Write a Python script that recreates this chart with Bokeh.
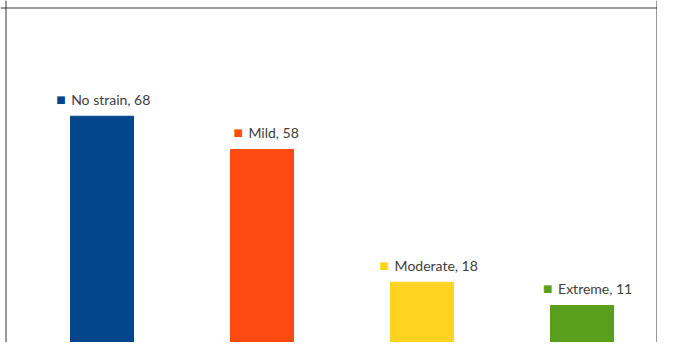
from bokeh.plotting import figure
from bokeh.models import Range1d, ColumnDataSource, Span
from bokeh.core.properties import value
from bokeh.embed import file_html
from bokeh.resources import INLINE

categories = ["No strain", "Mild", "Moderate", "Extreme"]
values = [68, 58, 18, 11]
colors = ["#03468B", "#FF4A12", "#FFD320", "#5A9E1E"]

W, H = 657, 342
px_per_cat = 160.0
x_start = -101.5 / px_per_cat
x_end = x_start + W / px_per_cat
px_per_unit = 3.32
y_start = -0.5 / px_per_unit
y_end = y_start + H / px_per_unit

labels = [f"{c}, {v}" for c, v in zip(categories, values)]
char_w = 6.9
totals = [16 + len(s) * char_w for s in labels]
src = ColumnDataSource(dict(
    x=list(range(len(categories))), top=values, color=colors, label=labels,
    mk=["\u25A0"] * len(categories),
    mk_off=[-t / 2 + 7 for t in totals],
    tx_off=[-t / 2 + 22 for t in totals],
))

p = figure(width=W, height=H, output_backend="svg", toolbar_location=None,
           x_range=Range1d(x_start, x_end), y_range=Range1d(y_start, y_end),
           min_border=0, outline_line_color=None)
p.axis.visible = False
p.grid.visible = False

p.vbar(x="x", top="top", bottom=0, width=63 / px_per_cat, color="color", source=src)

p.text(x="x", y="top", text="mk", x_offset="mk_off", y_offset=-17, source=src,
       text_color="color", text_font=value("DejaVu Sans"), text_font_size="10px",
       text_align="left", text_baseline="middle")
p.text(x="x", y="top", text="label", x_offset="tx_off", y_offset=-17, source=src,
       text_color="#404040", text_font=value("Lato"), text_font_size="14px",
       text_align="left", text_baseline="middle")

p.add_layout(Span(location=x_start + 5.5 / px_per_cat, dimension="height",
                  line_color="#333333", line_width=1))
p.add_layout(Span(location=x_end - 0.5 / px_per_cat, dimension="height",
                  line_color="#333333", line_width=1))
p.add_layout(Span(location=y_end - 7.5 / px_per_unit, dimension="width",
                  line_color="#333333", line_width=1))

open("out.html", "w").write(file_html(p, INLINE))
